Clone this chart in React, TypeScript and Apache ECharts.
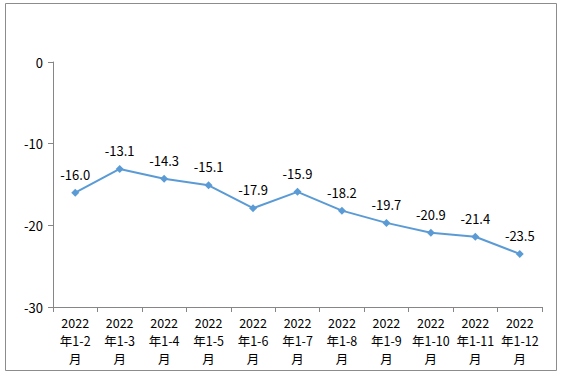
import React, { useEffect, useRef } from "react";
import * as echarts from "echarts";

const categories = [
  "2022\n年1-2\n月",
  "2022\n年1-3\n月",
  "2022\n年1-4\n月",
  "2022\n年1-5\n月",
  "2022\n年1-6\n月",
  "2022\n年1-7\n月",
  "2022\n年1-8\n月",
  "2022\n年1-9\n月",
  "2022\n年1-10\n月",
  "2022\n年1-11\n月",
  "2022\n年1-12\n月",
];
const values = [-16.0, -13.1, -14.3, -15.1, -17.9, -15.9, -18.2, -19.7, -20.9, -21.4, -23.5];

const FONT = "'Noto Sans CJK SC', 'Microsoft YaHei', sans-serif";

export default function App() {
  const ref = useRef<HTMLDivElement>(null);
  useEffect(() => {
    document.body.style.margin = "0";
    const chart = echarts.init(ref.current!, null, { renderer: "svg" });
    chart.setOption({
      animation: false,
      graphic: [
        {
          type: "rect",
          shape: { x: 5.5, y: 3.5, width: 551, height: 367 },
          style: { fill: "none", stroke: "#8c8c8c", lineWidth: 1 },
          silent: true,
        },
      ],
      grid: { left: 53, right: 23, top: 62, bottom: 71, containLabel: false },
      xAxis: {
        type: "category",
        data: categories,
        boundaryGap: true,
        axisLine: { onZero: false, lineStyle: { color: "#868686", width: 1 } },
        axisTick: { show: true, alignWithLabel: false, length: 5, lineStyle: { color: "#868686" } },
        axisLabel: {
          interval: 0,
          color: "#000",
          fontSize: 12.5,
          fontFamily: FONT,
          lineHeight: 18,
          margin: 6,
        },
      },
      yAxis: {
        type: "value",
        min: -30,
        max: 0,
        interval: 10,
        axisLine: { show: true, lineStyle: { color: "#868686", width: 1 } },
        axisTick: { show: true, length: 5, lineStyle: { color: "#868686" } },
        splitLine: { show: false },
        axisLabel: { color: "#000", fontSize: 13, fontFamily: FONT, margin: 10 },
      },
      series: [
        {
          type: "line",
          data: values,
          symbol: "diamond",
          symbolSize: 8,
          lineStyle: { color: "#5B9BD5", width: 2 },
          itemStyle: { color: "#5B9BD5" },
          label: {
            show: true,
            position: "top",
            distance: 8,
            color: "#000",
            fontSize: 13,
            fontFamily: FONT,
            formatter: (p: any) => p.value.toFixed(1),
          },
        },
      ],
    });
    return () => chart.dispose();
  }, []);
  return <div ref={ref} style={{ width: 565, height: 378 }} />;
}
